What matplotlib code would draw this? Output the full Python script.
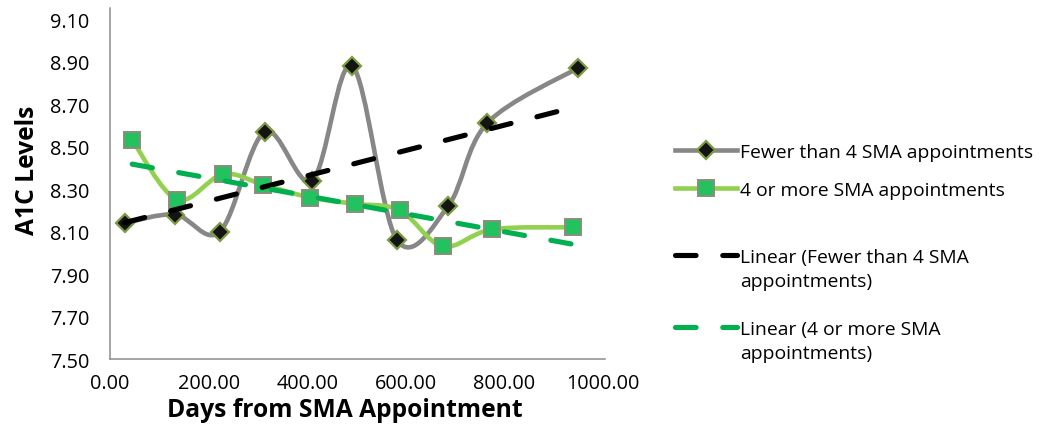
import numpy as np
import matplotlib
matplotlib.use("Agg")
from matplotlib import pyplot as plt
from matplotlib.path import Path
from matplotlib.patches import PathPatch
from matplotlib.lines import Line2D

days_fewer = [30, 132, 223, 314, 410, 491, 582, 686, 765, 949]
a1c_fewer = [8.14, 8.18, 8.10, 8.57, 8.34, 8.88, 8.06, 8.22, 8.61, 8.87]
days_more = [45, 136, 229, 311, 406, 497, 588, 675, 775, 939]
a1c_more = [8.53, 8.25, 8.37, 8.32, 8.26, 8.23, 8.20, 8.03, 8.11, 8.12]

y_ticks = [7.50, 7.70, 7.90, 8.10, 8.30, 8.50, 8.70, 8.90, 9.10]
x_ticks = [0, 200, 400, 600, 800, 1000]

labels = ["Fewer than 4 SMA appointments",
          "4 or more SMA appointments",
          "Linear (Fewer than 4 SMA\nappointments)",
          "Linear (4 or more SMA\nappointments)"]

GREY = '#878787'
LIGHT_GREEN = '#92d050'
TREND_GREEN = '#00b050'
FONT = 'Open Sans'
FS_TICK = 14.3
FS_LEG = 13.9
FS_TITLE = 17.7
W, H = 1041, 431


def smooth_path(xs, ys):
    # excel style smoothed line (bezier with catmull-rom control points)
    pts = np.column_stack([xs, ys]).astype(float)
    verts = [pts[0]]
    codes = [Path.MOVETO]
    n = len(pts)
    for i in range(n - 1):
        p0 = pts[max(i - 1, 0)]
        p1 = pts[i]
        p2 = pts[i + 1]
        p3 = pts[min(i + 2, n - 1)]
        verts += [p1 + (p2 - p0) / 6, p2 - (p3 - p1) / 6, p2]
        codes += [Path.CURVE4] * 3
    return Path(verts, codes)


plt.rcParams['font.family'] = [FONT, 'DejaVu Sans']

fig = plt.figure(figsize=(W / 100, H / 100), dpi=100)
ax = fig.add_axes([110 / W, (H - 360) / H, (605 - 110) / W, (360 - 9) / H])

grey_kw = dict(color=GREY, lw=3.3, marker='D', ms=9.5, mfc='#141414',
               mec='#7d9a45', mew=1.6)
green_kw = dict(color=LIGHT_GREEN, lw=3.3, marker='s', ms=11, mfc='#22c25e',
                mec='#8c8c7c', mew=1.4)
black_trend_kw = dict(color='black', lw=3.7, dashes=(4, 5.2),
                      dash_capstyle='round')
green_trend_kw = dict(color=TREND_GREEN, lw=3.7, dashes=(4, 5.2),
                      dash_capstyle='round')

# smoothed series lines
for xs, ys, c in [(days_fewer, a1c_fewer, GREY), (days_more, a1c_more, LIGHT_GREEN)]:
    ax.add_patch(PathPatch(smooth_path(xs, ys), fc='none', ec=c, lw=3.3,
                           capstyle='round', zorder=2))

ax.plot(days_fewer, a1c_fewer, ls='none', marker='D', ms=9.5, mfc='#141414',
        mec='#7d9a45', mew=1.6, zorder=3)
ax.plot(days_more, a1c_more, ls='none', marker='s', ms=11, mfc='#22c25e',
        mec='#8c8c7c', mew=1.4, zorder=3)

# linear trendlines
for xs, ys, kw in [(days_fewer, a1c_fewer, black_trend_kw),
                   (days_more, a1c_more, green_trend_kw)]:
    k, b = np.polyfit(xs, ys, 1)
    tx = np.array([xs[0], xs[-1]])
    ax.plot(tx, k * tx + b, zorder=4, **kw)

ax.set_xlim(0, 1004)
ax.set_ylim(7.5, 9.152)
ax.set_xticks(x_ticks)
ax.set_xticklabels([f'{v:.2f}' for v in x_ticks])
ax.set_yticks(y_ticks)
ax.set_yticklabels([f'{v:.2f}' for v in y_ticks])
ax.tick_params(length=0, labelsize=FS_TICK, labelcolor='black')
ax.tick_params(axis='y', pad=15)
ax.tick_params(axis='x', pad=10)
for side in ['top', 'right']:
    ax.spines[side].set_visible(False)
for side in ['left', 'bottom']:
    ax.spines[side].set_color('#8c8c8c')
    ax.spines[side].set_linewidth(1.1)

fig.text(345 / W, 1 - 411 / H, 'Days from SMA Appointment', ha='center',
         va='center', fontsize=FS_TITLE, fontweight='bold')
fig.text(27 / W, 1 - 170 / H, 'A1C Levels', ha='center', va='center',
         rotation=90, fontsize=FS_TITLE, fontweight='bold')

# legend, one entry at a time so multi line labels keep the handle on line 1
handles = [Line2D([], [], **grey_kw), Line2D([], [], **green_kw),
           Line2D([], [], **black_trend_kw), Line2D([], [], **green_trend_kw)]
rows = [153, 191, 258, 330]
fs_px = FS_LEG * 100 / 72
for h, lab, yc in zip(handles, labels, rows):
    first, *rest = lab.split('\n')
    leg = fig.legend(handles=[h], labels=[first], loc='center left',
                     bbox_to_anchor=(675 / W, 1 - yc / H), frameon=False,
                     borderpad=0, borderaxespad=0, numpoints=1,
                     handlelength=62 / fs_px, handletextpad=3 / fs_px,
                     fontsize=FS_LEG)
    for j, line in enumerate(rest):
        fig.text(740 / W, 1 - (yc + 24 * (j + 1)) / H, line, va='center',
                 ha='left', fontsize=FS_LEG)

fig.savefig('out.png', dpi=100)
